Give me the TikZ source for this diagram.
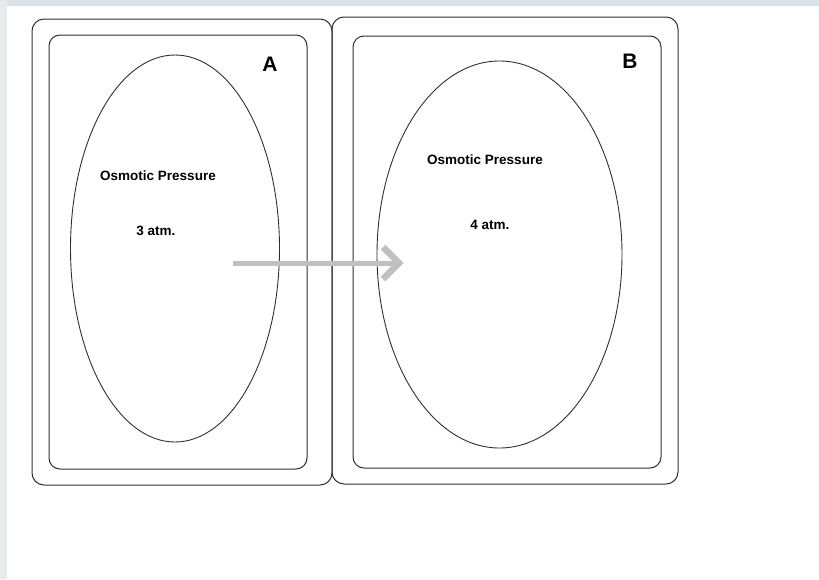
\documentclass[tikz,border=0pt]{standalone}
\usepackage{fontspec}
\setmainfont{Liberation Sans}
\usetikzlibrary{shapes.geometric}
\definecolor{bgstrip}{HTML}{DCE3E7}
\definecolor{linec}{HTML}{303030}
\definecolor{arrowc}{HTML}{C0C0C0}
\tikzset{
  card/.style={draw=linec, line width=1pt, rounded corners=12pt, inner sep=0pt, outer sep=0pt, fill=none},
  inner card/.style={draw=linec, line width=1pt, rounded corners=11pt, inner sep=0pt, outer sep=0pt},
  cell/.style={ellipse, draw=linec, line width=0.9pt, inner sep=0pt, outer sep=0pt},
  lbl/.style={font=\fontsize{13.5}{15}\selectfont\bfseries, inner sep=0pt},
  letter/.style={font=\fontsize{21}{23}\selectfont\bfseries, inner sep=0pt},
  flow/.style={draw=arrowc, line width=5pt},
  flowhead/.style={draw=arrowc, line width=6.5pt, miter limit=4}
}
\begin{document}
\begin{tikzpicture}[x=1pt,y=-1pt]
\useasboundingbox[fill=white] (0,0) rectangle (819,579);
% background fragments at the edges
\fill[bgstrip] (0,0) rectangle (819,6);
\fill[bgstrip!70] (0,0) rectangle (7,579);
% cards
\node[card, minimum width=300pt, minimum height=466pt] (outerA) at (182,252) {};
\node[card, minimum width=346pt, minimum height=467pt] (outerB) at (505,250.5) {};
\node[inner card, minimum width=258pt, minimum height=434pt] (innerA) at (178,252) {};
\node[inner card, minimum width=308pt, minimum height=432pt] (innerB) at (507,252) {};
% cells
\node[cell, minimum width=209pt, minimum height=387pt] (cellA) at (175,248.5) {};
\node[cell, minimum width=245pt, minimum height=387pt] (cellB) at (499.5,254.5) {};
% labels
\node[letter] (labA) at (270,64) {A};
\node[letter] (labB) at (630,61) {B};
\node[lbl] (opA) at (158,176) {Osmotic Pressure};
\node[lbl] (atmA) at (156,231) {3 atm.};
\node[lbl] (opB) at (485,160) {Osmotic Pressure};
\node[lbl] (atmB) at (490,225) {4 atm.};
% arrow
\coordinate (fs) at (233,263);
\coordinate (ft) at (399,263);
\draw[flow] (fs) -- (ft);
\draw[flowhead] ([shift={(-16,-16)}]ft) -- (ft) -- ([shift={(-16,16)}]ft);
\end{tikzpicture}
\end{document}
